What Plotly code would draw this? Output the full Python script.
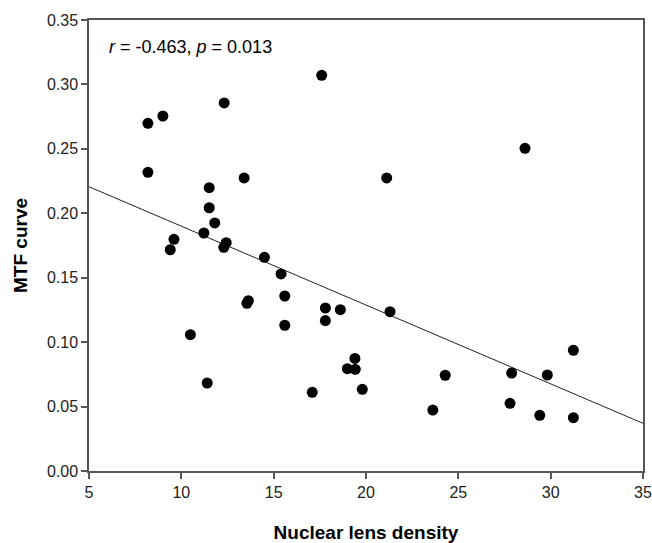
import plotly.graph_objects as go

# Nuclear lens density (x) and MTF curve (y)
lens_density = [8.19, 8.19, 9.00, 12.32, 17.60, 13.40, 11.51, 11.51, 11.81, 11.22,
                9.60, 9.40, 12.43, 12.30, 14.50, 15.40, 15.60, 13.63, 13.55, 15.60,
                17.80, 17.80, 10.49, 11.40, 17.09, 18.61, 21.30, 19.40, 18.99, 19.42,
                19.80, 24.29, 23.62, 27.89, 27.80, 29.82, 29.41, 31.23, 31.23, 21.12,
                28.61]
mtf_curve = [0.2698, 0.2318, 0.2755, 0.2856, 0.3071, 0.2274, 0.2199, 0.2043, 0.1925, 0.1847,
             0.1798, 0.1717, 0.1772, 0.1736, 0.1658, 0.1529, 0.1358, 0.1322, 0.1301, 0.1131,
             0.1265, 0.1167, 0.1058, 0.0683, 0.0611, 0.1252, 0.1236, 0.0874, 0.0794, 0.0789,
             0.0634, 0.0743, 0.0473, 0.0760, 0.0525, 0.0745, 0.0432, 0.0937, 0.0414, 0.2274,
             0.2504]

# Regression line end points
fit_x = [5, 35]
fit_y = [0.2206, 0.0370]

x_ticks = [5, 10, 15, 20, 25, 30, 35]
y_ticks = [0.00, 0.05, 0.10, 0.15, 0.20, 0.25, 0.30, 0.35]

FONT = "Liberation Sans, Arial, sans-serif"
AXC = "#555555"

fig = go.Figure()
fig.add_trace(go.Scatter(x=fit_x, y=fit_y, mode="lines",
                         line=dict(color="#222222", width=1), hoverinfo="skip"))
fig.add_trace(go.Scatter(x=lens_density, y=mtf_curve, mode="markers",
                         marker=dict(color="black", size=11, line=dict(width=0))))

fig.add_annotation(text="<i>r</i> = -0.463, <i>p</i> = 0.013", x=0.033, y=0.94,
                   xref="paper", yref="paper", xanchor="left", yanchor="middle",
                   showarrow=False, font=dict(family=FONT, size=18, color="black"))

fig.update_layout(
    width=652, height=543,
    margin=dict(l=89, r=9, t=20, b=72),
    paper_bgcolor="white", plot_bgcolor="white",
    showlegend=False,
    font=dict(family=FONT, size=16, color="#222222"),
    xaxis=dict(range=[5, 35], tickvals=x_ticks, ticks="outside", ticklen=6,
               tickcolor=AXC, tickwidth=1.5, showline=True, linecolor=AXC, linewidth=1.5,
               mirror=True, showgrid=False, zeroline=False, automargin=False,
               ticklabeloverflow="allow",
               tickfont=dict(size=16, family=FONT, color="#222222"),
               title=dict(text="<b>Nuclear lens density</b>", standoff=32,
                          font=dict(size=19, family=FONT, color="black"))),
    yaxis=dict(range=[0, 0.35], tickvals=y_ticks, tickformat=".2f", ticks="outside",
               ticklen=6, tickcolor=AXC, tickwidth=1.5, showline=True, linecolor=AXC,
               linewidth=1.5, mirror=True, showgrid=False, zeroline=False, automargin=False,
               tickfont=dict(size=16, family=FONT, color="#222222"),
               title=dict(text="<b>MTF curve</b>", standoff=14,
                          font=dict(size=19, family=FONT, color="black"))),
)

# remove the browser's default 8px body margin so the figure fills the window
fig.write_html("out.html", config={"displayModeBar": False},
               post_script="document.body.style.margin='0px';document.body.style.overflow='hidden';")
